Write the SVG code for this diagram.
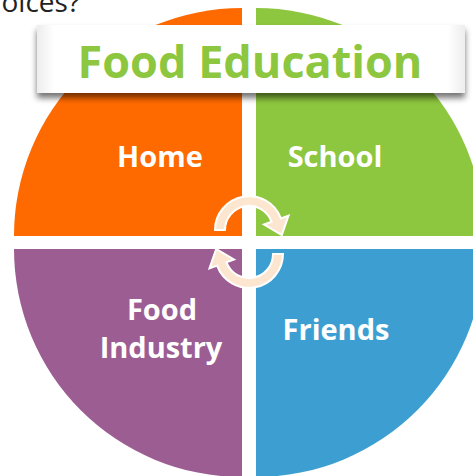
<svg xmlns="http://www.w3.org/2000/svg" width="473" height="476" viewBox="0 0 473 476">
  <defs>
    <filter id="shadow" x="-10%" y="-30%" width="120%" height="170%">
      <feGaussianBlur in="SourceAlpha" stdDeviation="3"/>
      <feOffset dx="0" dy="5" result="b"/>
      <feComponentTransfer><feFuncA type="linear" slope="0.55"/></feComponentTransfer>
      <feMerge><feMergeNode/><feMergeNode in="SourceGraphic"/></feMerge>
    </filter>
    <linearGradient id="boxg" x1="0" y1="0" x2="1" y2="0">
      <stop offset="0" stop-color="#ededed"/>
      <stop offset="0.04" stop-color="#ffffff"/>
      <stop offset="0.96" stop-color="#ffffff"/>
      <stop offset="1" stop-color="#ededed"/>
    </linearGradient>
    <path id="arrow" d="M -34,0 A 34 34 0 0 1 31.9,-11.6 L 39.5,-14.4 L 32.8,5.1 L 15.0,-5.5 L 22.6,-8.2 A 24 24 0 0 0 -24,0 Z"/>
  </defs>
  <style>
    .lbl { font-family: "Open Sans", "Liberation Sans", sans-serif; font-weight: bold; font-size: 29px; fill: #ffffff; text-anchor: middle; }
    .arr { fill: #fde6cf; stroke: #ffffff; stroke-width: 2; stroke-linejoin: miter; }
  </style>
  <rect width="473" height="476" fill="#ffffff"/>
  <text x="80" y="12" font-family="'Open Sans', 'Liberation Sans', sans-serif" font-size="28" fill="#222222" text-anchor="end">choices?</text>

  <g id="home">
    <path d="M242,236 L14,236 A228,228 0 0 1 242,8 Z" fill="#ff6a00"/>
    <text class="lbl" x="160" y="167">Home</text>
  </g>
  <g id="school">
    <path d="M256,236 L256,8 A228,228 0 0 1 484,236 Z" fill="#8dc63f"/>
    <text class="lbl" x="335" y="167">School</text>
  </g>
  <g id="food-industry">
    <path d="M242,249 L242,477 A228,228 0 0 1 14,249 Z" fill="#9c5e92"/>
    <text class="lbl" x="162" y="320">Food</text>
    <text class="lbl" x="161" y="358">Industry</text>
  </g>
  <g id="friends">
    <path d="M256,249 L484,249 A228,228 0 0 1 256,477 Z" fill="#3d9fd1"/>
    <text class="lbl" x="336" y="340">Friends</text>
  </g>

  <g id="connectors">
    <use href="#arrow" class="arr" transform="translate(249,230)"/>
    <use href="#arrow" class="arr" transform="translate(249,254) rotate(180)"/>
  </g>

  <g id="title">
    <rect x="37" y="25" width="428" height="68" fill="url(#boxg)" filter="url(#shadow)"/>
    <text x="250" y="78" font-family="'Open Sans', 'Liberation Sans', sans-serif" font-weight="bold" font-size="45" fill="#8dc63f" text-anchor="middle">Food Education</text>
  </g>
</svg>
